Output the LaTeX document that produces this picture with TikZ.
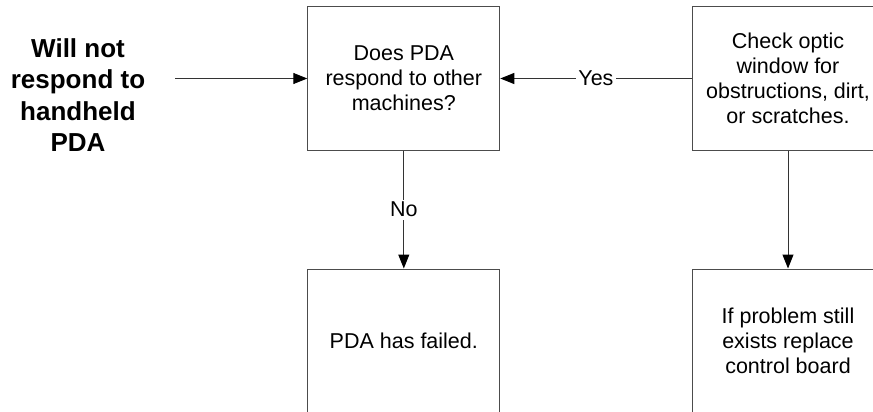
\documentclass[tikz,border=0pt]{standalone}
\usepackage{fontspec}
\setmainfont{Liberation Sans}
\usetikzlibrary{arrows.meta}

\begin{document}
\begin{tikzpicture}[x=1pt,y=-1pt,
    stepbox/.style={draw=black!70,line width=1pt,minimum width=192pt,minimum height=143pt,
      inner sep=0pt,align=center,font=\fontsize{21.5}{25}\selectfont},
    flow/.style={draw=black!80,line width=1pt,-{Triangle[length=14pt,width=11pt,color=black]}},
    answer/.style={fill=white,inner sep=2.5pt,font=\fontsize{21.5}{25}\selectfont}]
  \useasboundingbox (0,0) rectangle (873,412);
  \clip (0,0) rectangle (873,412);
  % symptom and the four steps
  \node[align=center,font=\bfseries\fontsize{26}{31.6}\selectfont] (symptom) at (78,95)
    {Will not\\respond to\\handheld\\PDA};
  \node[stepbox] (respond) at (403.8,78.5) {Does PDA\\respond to other\\machines?};
  \node[stepbox] (optic) at (788,78.5) {Check optic\\window for\\obstructions, dirt,\\or scratches.};
  \node[stepbox] (failed) at (403.8,340.5) {PDA has failed.};
  \node[stepbox] (board) at (788,340.5) {If problem still\\exists replace\\control board};
  % connectors
  \coordinate (start) at (175,78.5);
  \draw[flow] (start) -- (respond);
  \draw[flow] (optic) -- node[answer] {Yes} (respond);
  \draw[flow] (respond) -- node[answer] {No} (failed);
  \draw[flow] (optic) -- (board);
\end{tikzpicture}
\end{document}
